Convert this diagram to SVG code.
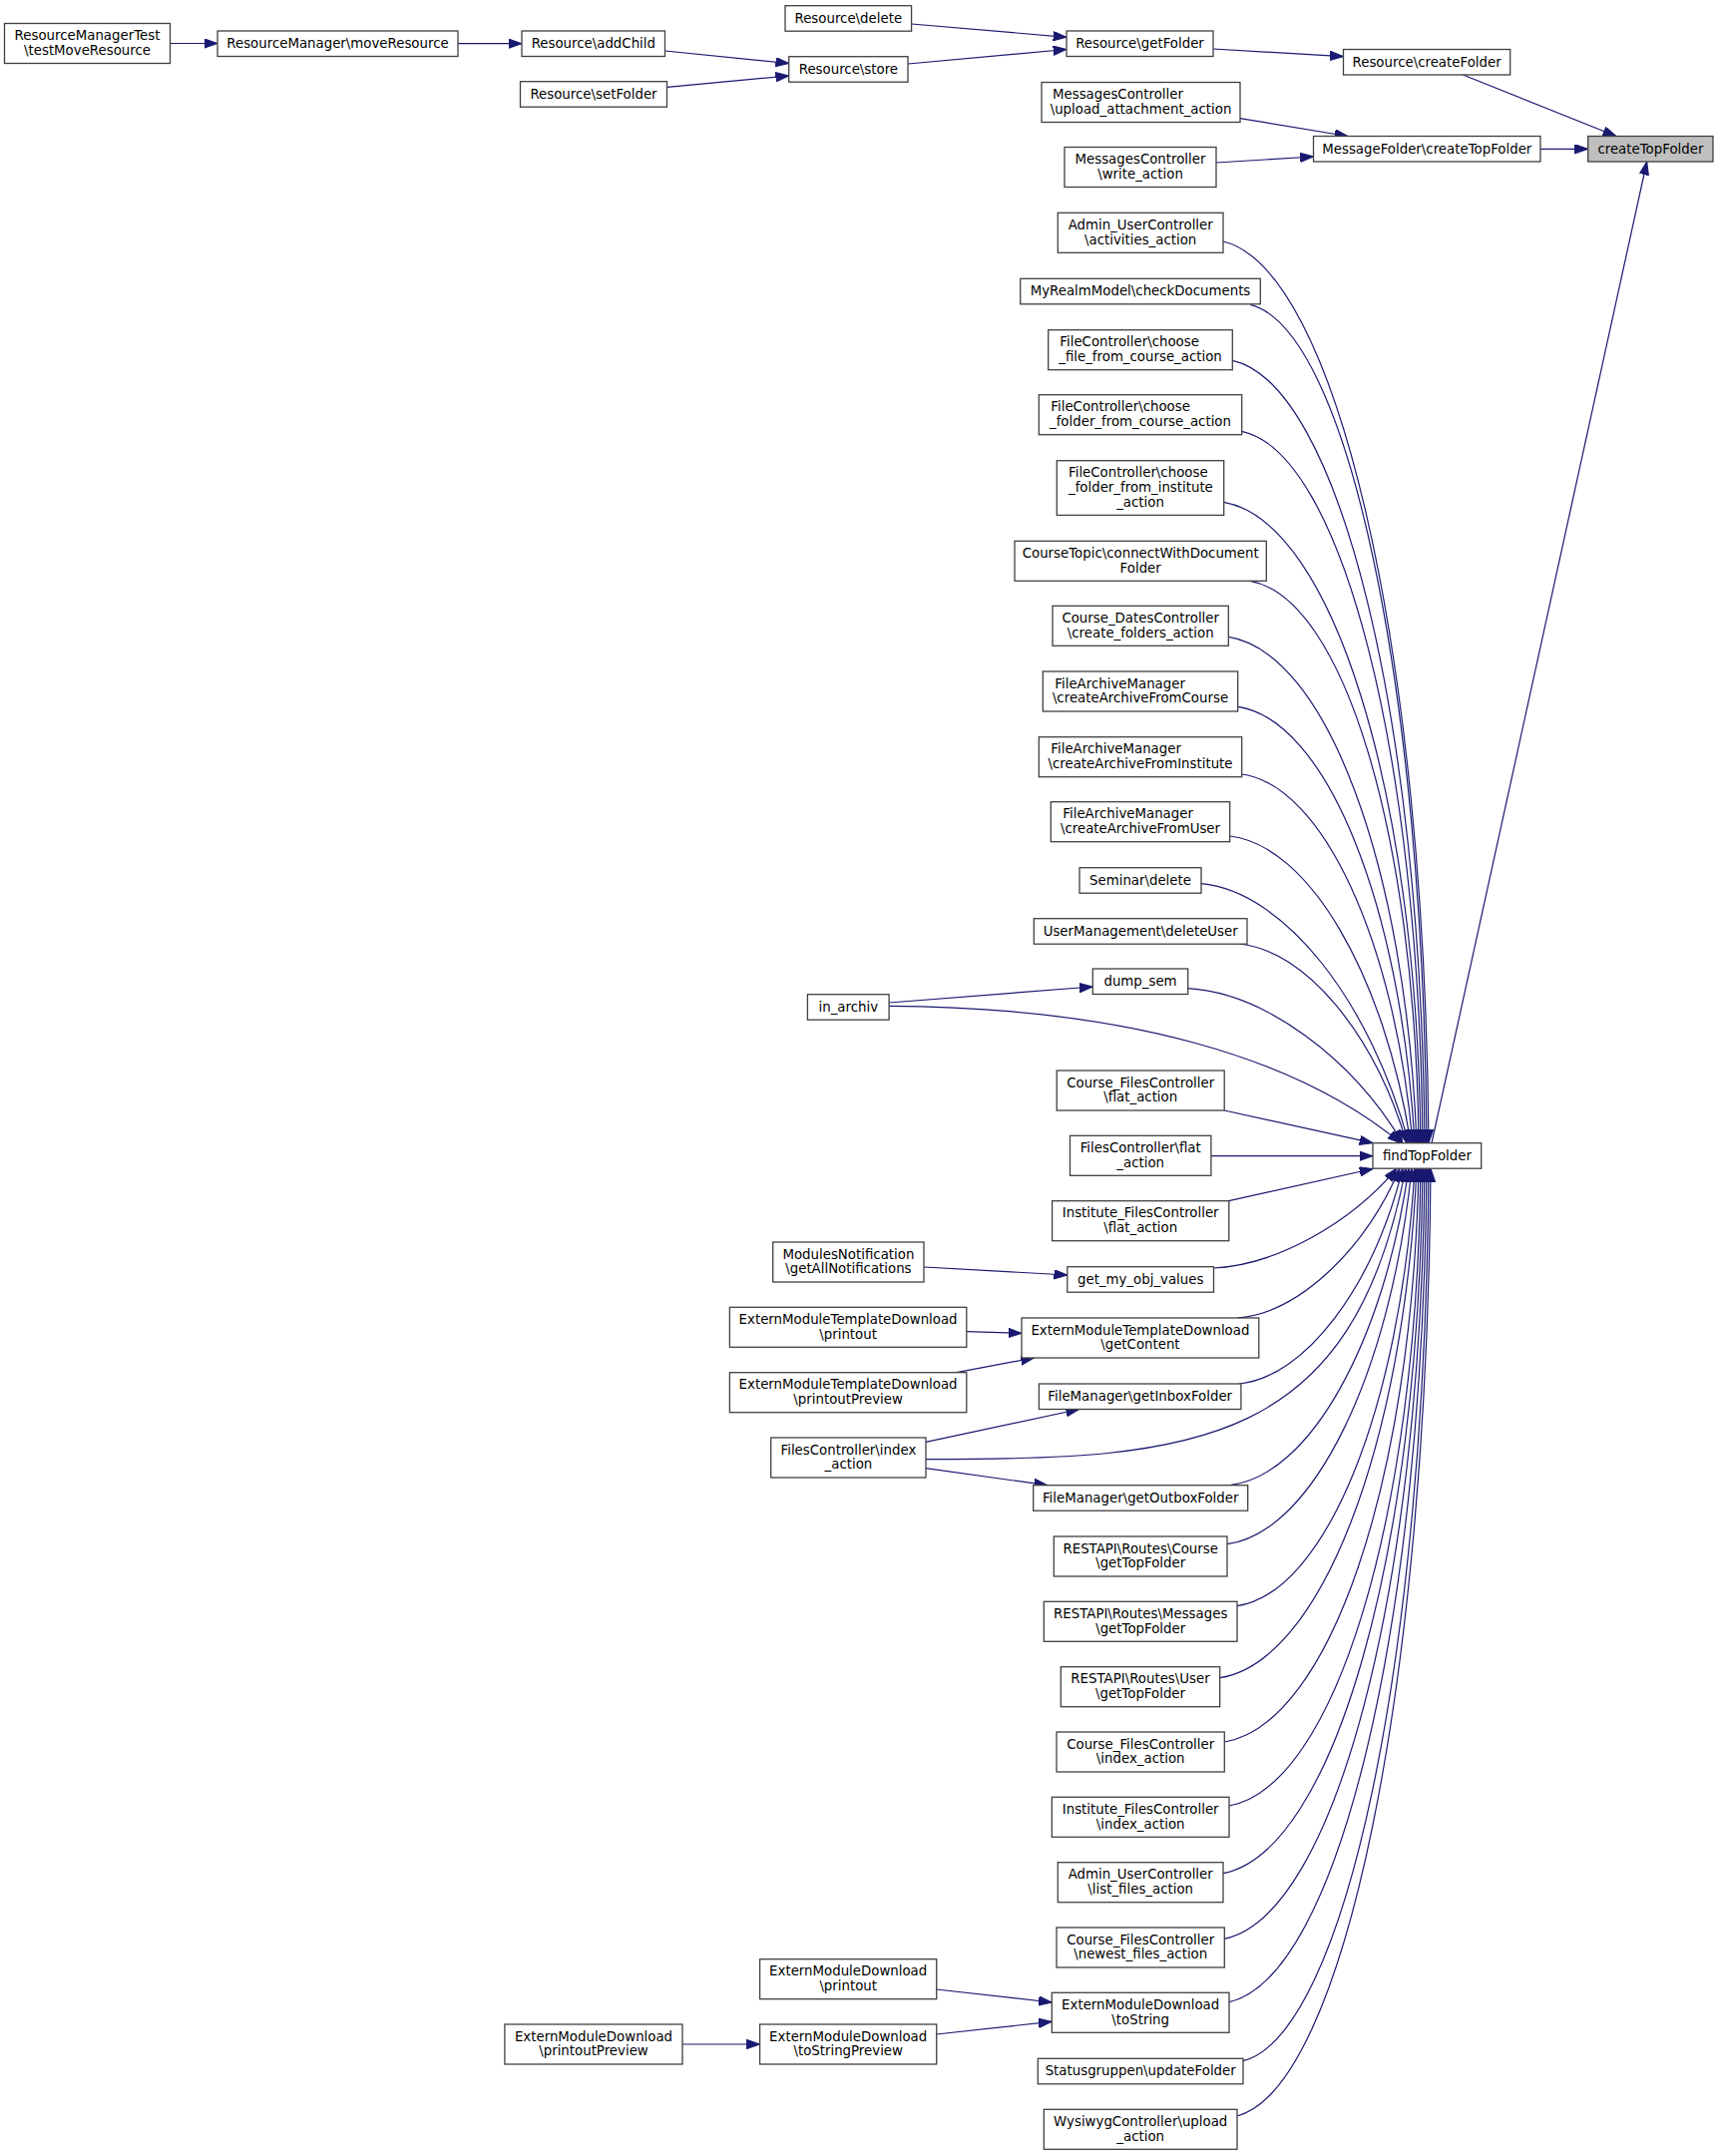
<svg xmlns="http://www.w3.org/2000/svg" width="1723" height="2161" viewBox="0 0 1723 2161">
<style>
.node rect{fill:#fff;stroke:#404040;stroke-width:1.3}
.focus rect{fill:#bfbfbf}
text{font-family:"DejaVu Sans","Liberation Sans",sans-serif;font-size:13.33px;fill:#000;text-anchor:middle}
text.l{text-anchor:start}
.edges path{fill:none;stroke:#191970;stroke-width:1.2;marker-end:url(#ah)}
</style>
<defs>
<marker id="ah" markerUnits="userSpaceOnUse" markerWidth="14" markerHeight="10" refX="13.3" refY="4.7" orient="auto" viewBox="0 0 14 10">
<path d="M0,0 L13.3,4.7 L0,9.4 z" fill="#191970" stroke="#191970" stroke-width="1"/>
</marker>
</defs>
<rect width="1723" height="2161" fill="#fff"/>
<g class="edges">
<path d="M170.5,43.5 L218,43.5"/>
<path d="M459,43.7 L523,43.7"/>
<path d="M666.5,51 L790.7,63.5"/>
<path d="M668.7,87.3 L790.7,76"/>
<path d="M913.6,24 L1069,37.3"/>
<path d="M910,64 L1069,49.5"/>
<path d="M1216,49 L1346.5,56.7"/>
<path d="M1466.4,75 L1620,136.5"/>
<path d="M1243,118.7 L1351,136.5"/>
<path d="M1219,163 L1316.5,157"/>
<path d="M1544,149.3 L1591.7,149.3"/>
<path d="M1435,1145.7 L1650.7,162"/>
<path d="M1226,242 C1339.3,269.1 1427.9,648.7 1432,1145.7"/>
<path d="M1253.3,305.3 C1350.5,330.5 1426.5,683.5 1430,1145.7"/>
<path d="M1235.3,361.3 C1341.3,384.8 1424.1,714.3 1428,1145.7"/>
<path d="M1244.7,432.3 C1344.4,453.7 1422.4,753.3 1426,1145.7"/>
<path d="M1226.7,503.3 C1335.2,522.6 1420.1,792.4 1424,1145.7"/>
<path d="M1254,582.7 C1346.4,599.6 1418.6,836 1422,1145.7"/>
<path d="M1231.3,638.3 C1328.5,653.5 1409.1,866.6 1420,1145.7"/>
<path d="M1240.7,708.3 C1329,721.4 1404.2,905.1 1418,1145.7"/>
<path d="M1244.7,776 C1325.7,787.1 1397.8,942.4 1416,1145.7"/>
<path d="M1232.7,838 C1311.7,847.2 1387.3,976.5 1414,1145.7"/>
<path d="M1204,885.7 C1287.2,893.5 1373,1002.7 1412,1145.7"/>
<path d="M1241.7,946 C1308.2,952 1377.5,1035.9 1410,1145.7"/>
<path d="M1190.7,990.7 C1267.8,995.4 1355.4,1060.4 1406,1145.7"/>
<path d="M891.1,1008.3 C1130,1010 1300,1060 1404,1145.7"/>
<path d="M891.1,1005 L1095.4,989"/>
<path d="M1227.2,1113 L1376,1145.7"/>
<path d="M1213.9,1158.7 L1376,1158.7"/>
<path d="M1231.8,1203.7 L1376,1171.5"/>
<path d="M1216.5,1271 C1279.4,1268 1353.9,1226.1 1400,1171.2"/>
<path d="M1240,1321 C1301,1316.5 1367.6,1253.6 1403,1171.2"/>
<path d="M1242,1387 C1308.4,1380.5 1376.3,1289.9 1406,1171.2"/>
<path d="M928,1462.7 C1200,1463 1355,1450 1409,1171.2"/>
<path d="M1234,1488.3 C1312.7,1478.8 1387.1,1345.6 1412,1171.2"/>
<path d="M1230,1547.7 C1315.7,1536.4 1393.5,1378.3 1415,1171.2"/>
<path d="M1240,1609.7 C1328.5,1596.5 1403.9,1412.4 1418,1171.2"/>
<path d="M1222.7,1681.7 C1322.7,1666.4 1406.8,1452 1420,1171.2"/>
<path d="M1227.3,1746 C1331.7,1728.8 1415.4,1487.3 1422,1171.2"/>
<path d="M1232,1810 C1337.6,1790.8 1420.2,1522.5 1424,1171.2"/>
<path d="M1226,1877.7 C1336,1856.5 1422,1559.8 1426,1171.2"/>
<path d="M1227.3,1943.3 C1337.7,1920.1 1424,1595.9 1428,1171.2"/>
<path d="M1232,2006.7 C1340.9,1981.6 1426,1630.7 1430,1171.2"/>
<path d="M1246,2065.7 C1348.3,2038.9 1428.3,1663.2 1432,1171.2"/>
<path d="M1240,2121 C1346.7,2092.5 1430.1,1693.6 1434,1171.2"/>
<path d="M926,1270 L1069.8,1278"/>
<path d="M968.8,1334.7 L1024,1336.3"/>
<path d="M958.8,1375.7 L1036.4,1361"/>
<path d="M928,1445.3 L1081.7,1412.5"/>
<path d="M928,1471.7 L1049.9,1488.7"/>
<path d="M938.7,1994 L1054.3,2007"/>
<path d="M938.7,2039 L1054.3,2026.3"/>
<path d="M684,2049 L761.6,2049"/>
</g>
<g id="n1" class="node"><rect x="4.5" y="23.5" width="166" height="40"/><text x="87.5" y="40.1">ResourceManagerTest</text><text x="87.5" y="54.8">\testMoveResource</text></g>
<g id="n2" class="node"><rect x="218" y="31" width="241" height="25.5"/><text x="338.5" y="48">ResourceManager\moveResource</text></g>
<g id="n3" class="node"><rect x="523" y="31" width="143.5" height="25.5"/><text x="594.8" y="48">Resource\addChild</text></g>
<g id="n4" class="node"><rect x="521.5" y="81.7" width="147" height="25.5"/><text x="595" y="98.7">Resource\setFolder</text></g>
<g id="n5" class="node"><rect x="790.7" y="56.7" width="119.3" height="25.5"/><text x="850.4" y="73.7">Resource\store</text></g>
<g id="n6" class="node"><rect x="787" y="5.7" width="126.6" height="25.5"/><text x="850.3" y="22.7">Resource\delete</text></g>
<g id="n7" class="node"><rect x="1069" y="31" width="147" height="25.5"/><text x="1142.5" y="48">Resource\getFolder</text></g>
<g id="n8" class="node"><rect x="1346.5" y="49.5" width="167.2" height="25.5"/><text x="1430.1" y="66.5">Resource\createFolder</text></g>
<g id="n9" class="node"><rect x="1044" y="82.5" width="199" height="40"/><text class="l" x="1055" y="99.1">MessagesController</text><text x="1143.5" y="113.8">\upload_attachment_action</text></g>
<g id="n10" class="node"><rect x="1067" y="147.5" width="152" height="40"/><text x="1143" y="164.1">MessagesController</text><text x="1143" y="178.8">\write_action</text></g>
<g id="n11" class="node"><rect x="1316.5" y="136.5" width="227.5" height="25.5"/><text x="1430.3" y="153.5">MessageFolder\createTopFolder</text></g>
<g id="n12" class="node focus"><rect x="1591.7" y="136.5" width="125.3" height="25.5"/><text x="1654.4" y="153.5">createTopFolder</text></g>
<g id="n13" class="node"><rect x="1060.3" y="213.3" width="165.7" height="40"/><text x="1143.2" y="229.9">Admin_UserController</text><text x="1143.2" y="244.6">\activities_action</text></g>
<g id="n14" class="node"><rect x="1022.7" y="279.3" width="240.6" height="25.5"/><text x="1143" y="296.3">MyRealmModel\checkDocuments</text></g>
<g id="n15" class="node"><rect x="1050.7" y="330.7" width="184.6" height="40"/><text class="l" x="1062.3" y="347.3">FileController\choose</text><text x="1143" y="362">_file_from_course_action</text></g>
<g id="n16" class="node"><rect x="1041.3" y="395.7" width="203.4" height="40"/><text class="l" x="1053.3" y="412.3">FileController\choose</text><text x="1143" y="427">_folder_from_course_action</text></g>
<g id="n17" class="node"><rect x="1059.3" y="461.7" width="167.4" height="54.7"/><text class="l" x="1071" y="478.3">FileController\choose</text><text class="l" x="1071" y="493">_folder_from_institute</text><text x="1143" y="507.7">_action</text></g>
<g id="n18" class="node"><rect x="1017" y="542.3" width="252.3" height="40"/><text x="1143.2" y="558.9">CourseTopic\connectWithDocument</text><text x="1143.2" y="573.6">Folder</text></g>
<g id="n19" class="node"><rect x="1055" y="607.3" width="176.3" height="40"/><text x="1143.2" y="623.9">Course_DatesController</text><text x="1143.2" y="638.6">\create_folders_action</text></g>
<g id="n20" class="node"><rect x="1045.3" y="673" width="195.4" height="40"/><text class="l" x="1057.3" y="689.6">FileArchiveManager</text><text x="1143" y="704.3">\createArchiveFromCourse</text></g>
<g id="n21" class="node"><rect x="1041.3" y="738.7" width="203.4" height="40"/><text class="l" x="1053.3" y="755.3">FileArchiveManager</text><text x="1143" y="770">\createArchiveFromInstitute</text></g>
<g id="n22" class="node"><rect x="1053.3" y="803.7" width="179.4" height="40"/><text class="l" x="1065.3" y="820.3">FileArchiveManager</text><text x="1143" y="835">\createArchiveFromUser</text></g>
<g id="n23" class="node"><rect x="1082" y="869.7" width="122" height="25.5"/><text x="1143" y="886.7">Seminar\delete</text></g>
<g id="n24" class="node"><rect x="1036.3" y="920.7" width="213.7" height="25.5"/><text x="1143.2" y="937.7">UserManagement\deleteUser</text></g>
<g id="n25" class="node"><rect x="1095.3" y="971" width="95.4" height="25.5"/><text x="1143" y="988">dump_sem</text></g>
<g id="n26" class="node"><rect x="809.4" y="996.7" width="81.7" height="25.5"/><text x="850.3" y="1013.7">in_archiv</text></g>
<g id="n27" class="node"><rect x="1059.2" y="1073" width="168" height="40"/><text x="1143.2" y="1089.6">Course_FilesController</text><text x="1143.2" y="1104.3">\flat_action</text></g>
<g id="n28" class="node"><rect x="1072.5" y="1138.3" width="141.4" height="40"/><text x="1143.2" y="1154.9">FilesController\flat</text><text x="1143.2" y="1169.6">_action</text></g>
<g id="n29" class="node"><rect x="1054.6" y="1203.7" width="177.2" height="40"/><text x="1143.2" y="1220.3">Institute_FilesController</text><text x="1143.2" y="1235">\flat_action</text></g>
<g id="n30" class="node"><rect x="1376" y="1145.7" width="108.7" height="25.5"/><text x="1430.4" y="1162.7">findTopFolder</text></g>
<g id="n31" class="node"><rect x="774.7" y="1245" width="151.3" height="40"/><text x="850.4" y="1261.6">ModulesNotification</text><text x="850.4" y="1276.3">\getAllNotifications</text></g>
<g id="n32" class="node"><rect x="1069.8" y="1269.7" width="146.7" height="25.5"/><text x="1143.2" y="1286.7">get_my_obj_values</text></g>
<g id="n33" class="node"><rect x="731.4" y="1310.3" width="237.4" height="40"/><text x="850.1" y="1326.9">ExternModuleTemplateDownload</text><text x="850.1" y="1341.6">\printout</text></g>
<g id="n34" class="node"><rect x="1024" y="1321" width="237.8" height="40"/><text x="1142.9" y="1337.6">ExternModuleTemplateDownload</text><text x="1142.9" y="1352.3">\getContent</text></g>
<g id="n35" class="node"><rect x="731.4" y="1375.7" width="237.4" height="40"/><text x="850.1" y="1392.3">ExternModuleTemplateDownload</text><text x="850.1" y="1407">\printoutPreview</text></g>
<g id="n36" class="node"><rect x="1041.4" y="1387" width="202.5" height="25.5"/><text x="1142.7" y="1404">FileManager\getInboxFolder</text></g>
<g id="n37" class="node"><rect x="772.7" y="1441" width="155.3" height="40"/><text x="850.4" y="1457.6">FilesController\index</text><text x="850.4" y="1472.3">_action</text></g>
<g id="n38" class="node"><rect x="1035.7" y="1488.7" width="215" height="25.5"/><text x="1143.2" y="1505.7">FileManager\getOutboxFolder</text></g>
<g id="n39" class="node"><rect x="1056.3" y="1540" width="173.7" height="40"/><text x="1143.2" y="1556.6">RESTAPI\Routes\Course</text><text x="1143.2" y="1571.3">\getTopFolder</text></g>
<g id="n40" class="node"><rect x="1046.3" y="1605.3" width="193.7" height="40"/><text x="1143.2" y="1621.9">RESTAPI\Routes\Messages</text><text x="1143.2" y="1636.6">\getTopFolder</text></g>
<g id="n41" class="node"><rect x="1063.3" y="1670.7" width="159.4" height="40"/><text x="1143" y="1687.3">RESTAPI\Routes\User</text><text x="1143" y="1702">\getTopFolder</text></g>
<g id="n42" class="node"><rect x="1059" y="1736" width="168.3" height="40"/><text x="1143.2" y="1752.6">Course_FilesController</text><text x="1143.2" y="1767.3">\index_action</text></g>
<g id="n43" class="node"><rect x="1054.3" y="1801.3" width="177.7" height="40"/><text x="1143.2" y="1817.9">Institute_FilesController</text><text x="1143.2" y="1832.6">\index_action</text></g>
<g id="n44" class="node"><rect x="1060.3" y="1866.7" width="165.7" height="40"/><text x="1143.2" y="1883.3">Admin_UserController</text><text x="1143.2" y="1898">\list_files_action</text></g>
<g id="n45" class="node"><rect x="1059" y="1932" width="168.3" height="40"/><text x="1143.2" y="1948.6">Course_FilesController</text><text x="1143.2" y="1963.3">\newest_files_action</text></g>
<g id="n46" class="node"><rect x="1054.3" y="1997.3" width="177.7" height="40"/><text x="1143.2" y="2013.9">ExternModuleDownload</text><text x="1143.2" y="2028.6">\toString</text></g>
<g id="n47" class="node"><rect x="1040.3" y="2063.3" width="205.7" height="25.5"/><text x="1143.2" y="2080.3">Statusgruppen\updateFolder</text></g>
<g id="n48" class="node"><rect x="1046.3" y="2114.3" width="193.7" height="40"/><text x="1143.2" y="2130.9">WysiwygController\upload</text><text x="1143.2" y="2145.6">_action</text></g>
<g id="n49" class="node"><rect x="761.6" y="1963.7" width="177.1" height="40"/><text x="850.2" y="1980.3">ExternModuleDownload</text><text x="850.2" y="1995">\printout</text></g>
<g id="n50" class="node"><rect x="505.9" y="2029" width="178.1" height="40"/><text x="595" y="2045.6">ExternModuleDownload</text><text x="595" y="2060.3">\printoutPreview</text></g>
<g id="n51" class="node"><rect x="761.6" y="2029" width="177.1" height="40"/><text x="850.2" y="2045.6">ExternModuleDownload</text><text x="850.2" y="2060.3">\toStringPreview</text></g>
</svg>
